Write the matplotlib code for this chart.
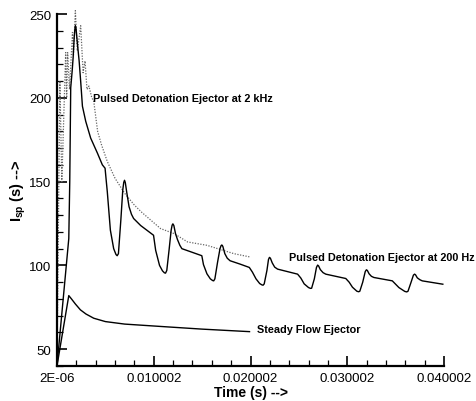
import matplotlib
matplotlib.use("Agg")
import matplotlib.pyplot as plt
from matplotlib.ticker import FixedLocator, MultipleLocator

plt.rcParams['font.family'] = ['Liberation Sans', 'DejaVu Sans']
plt.rcParams['mathtext.fontset'] = 'custom'
plt.rcParams['mathtext.rm'] = 'Liberation Sans'
plt.rcParams['mathtext.bf'] = 'Liberation Sans:bold'
plt.rcParams['mathtext.it'] = 'Liberation Sans:italic'

# ---- data ----
t_200hz = [0.0, 0.00122, 0.00132, 0.00142, 0.00157, 0.00167, 0.00178, 0.00185, 0.00190,
           0.00196, 0.00210, 0.00229, 0.00246, 0.00263, 0.00297, 0.00348, 0.00418,
           0.00469, 0.00497, 0.00510, 0.00520, 0.00552, 0.00586, 0.00610, 0.00622,
           0.00635, 0.00660, 0.00680, 0.00690, 0.00698, 0.00706, 0.00720, 0.00745,
           0.00770, 0.00792, 0.00865, 0.00998, 0.01020, 0.01060, 0.01090, 0.01110,
           0.01122, 0.01135, 0.01160, 0.01180, 0.01190, 0.01198, 0.01208,
           0.01225, 0.01245, 0.01270, 0.01291, 0.01497, 0.01514, 0.01550, 0.01585,
           0.01608, 0.01620, 0.01632, 0.01660, 0.01685, 0.01696, 0.01704, 0.01714,
           0.01735, 0.01760, 0.01789, 0.01892, 0.01988, 0.02020, 0.02057, 0.02095,
           0.02118, 0.02130, 0.02142, 0.02170, 0.02186, 0.02196, 0.02206,
           0.02225, 0.02250, 0.02280, 0.02487, 0.02520, 0.02555, 0.02600, 0.02620,
           0.02632, 0.02660, 0.02682, 0.02694, 0.02704,
           0.02722, 0.02750, 0.02778, 0.02985, 0.03020, 0.03054, 0.03100, 0.03118,
           0.03130, 0.03160, 0.03186, 0.03198, 0.03208,
           0.03226, 0.03250, 0.03276, 0.03466, 0.03500, 0.03534, 0.03595, 0.03615,
           0.03628, 0.03660, 0.03684, 0.03696, 0.03706,
           0.03724, 0.03750, 0.03775, 0.03988]
isp_200hz = [40, 116, 150, 206, 216, 224, 236, 241, 243,
             242, 233, 222, 209, 195, 186, 176, 167,
             160, 158, 150, 144, 121, 110, 106.5, 105.8,
             107, 127, 145, 149.5, 150.8, 149.5, 144, 135,
             130.5, 128, 123.8, 118, 109, 100, 96.8, 95.6,
             95.4, 97, 110, 121, 124, 124.8, 123.8,
             119, 115.5, 112, 110, 105.8, 100.5, 95, 92,
             91, 90.8, 92, 102, 110, 111.8, 112.2, 111.4,
             107, 104.3, 102.8, 100.8, 98.8, 96, 92, 89.2,
             88.4, 88.2, 89, 97, 103.5, 104.8, 104.3,
             101.5, 99, 97.8, 94.8, 92.5, 89, 86.8, 86.3,
             86.4, 92, 98.8, 100.2, 99.7,
             97.5, 95.7, 94.8, 92.2, 90, 87, 84.6, 84.3,
             84.6, 90, 96.3, 97.4, 97.0,
             95, 93.5, 92.8, 90.8, 88.8, 86.8, 84.5, 84.2,
             84.6, 90, 94.2, 94.8, 94.4,
             92.6, 91.5, 90.8, 88.8]

t_2khz = [0.0, 0.0003, 0.0005, 0.0009, 0.0010, 0.0011, 0.0013, 0.0016, 0.0017,
          0.0019, 0.0021, 0.00245, 0.0027, 0.0029, 0.0031, 0.0033, 0.0036, 0.0038,
          0.0042, 0.0046, 0.0052, 0.0060, 0.0070, 0.0080, 0.0087, 0.0107, 0.0121,
          0.0135, 0.0155, 0.0183, 0.0200]
isp_2khz = [40, 210, 150, 227, 200, 227, 205, 239, 225,
            252, 228, 243, 215, 222, 205, 207, 200, 198,
            180, 172, 162, 152, 143, 136, 132, 122, 119,
            114, 112, 107, 105]

t_steady = [0.0, 0.00122, 0.0015, 0.0019, 0.00242, 0.0030, 0.0038, 0.0050,
            0.0070, 0.0107, 0.0150, 0.0189, 0.0199]
isp_steady = [40, 82, 80, 77, 73.5, 71, 68.5, 66.5, 65, 63.6, 62, 60.8, 60.5]

x_ticks = [0.000002, 0.010002, 0.020002, 0.030002, 0.040002]
x_ticklabels = ["2E-06", "0.010002", "0.020002", "0.030002", "0.040002"]
y_ticks = [50, 100, 150, 200, 250]

labels = ["Pulsed Detonation Ejector at 2 kHz",
          "Pulsed Detonation Ejector at 200 Hz",
          "Steady Flow Ejector"]

# ---- figure ----
fig = plt.figure(figsize=(4.76, 4.02), dpi=100)
ax = fig.add_axes([57 / 476, 1 - 367 / 402, (444 - 57) / 476, (367 - 15) / 402])

ax.plot(t_2khz, isp_2khz, color='#666666', lw=0.9, ls=(0, (1, 1.2)), clip_on=False)
ax.plot(t_200hz, isp_200hz, color='black', lw=1.0, clip_on=False)
ax.plot(t_steady, isp_steady, color='black', lw=1.0, clip_on=False)

ax.set_xlim(0.000002, 0.040002)
ax.set_ylim(40, 250)

ax.xaxis.set_major_locator(FixedLocator(x_ticks))
ax.set_xticklabels(x_ticklabels)
ax.xaxis.set_minor_locator(FixedLocator([0.000002 + 0.002 * k for k in range(21)]))
ax.yaxis.set_major_locator(FixedLocator(y_ticks))
ax.yaxis.set_minor_locator(MultipleLocator(10))

for s in ['top', 'right']:
    ax.spines[s].set_visible(False)
for s in ['left', 'bottom']:
    ax.spines[s].set_linewidth(1.6)

ax.tick_params(which='major', direction='in', length=7, width=1.2, labelsize=9.5, pad=4)
ax.tick_params(which='minor', direction='in', length=4, width=0.9)

ax.set_xlabel("Time (s) -->", fontsize=10, fontweight='bold', labelpad=1)
ax.set_ylabel(r"$\mathbf{I_{sp}}$ (s) -->", fontsize=10.5, fontweight='bold', labelpad=1)

ax.text(0.00376, 200, labels[0], fontsize=7.8, fontweight='bold', ha='left', va='center')
ax.text(0.02394, 105, labels[1], fontsize=7.8, fontweight='bold', ha='left', va='center',
        clip_on=False)
ax.text(0.02067, 61.8, labels[2], fontsize=7.8, fontweight='bold', ha='left', va='center')

fig.savefig("out.png", dpi=100)
